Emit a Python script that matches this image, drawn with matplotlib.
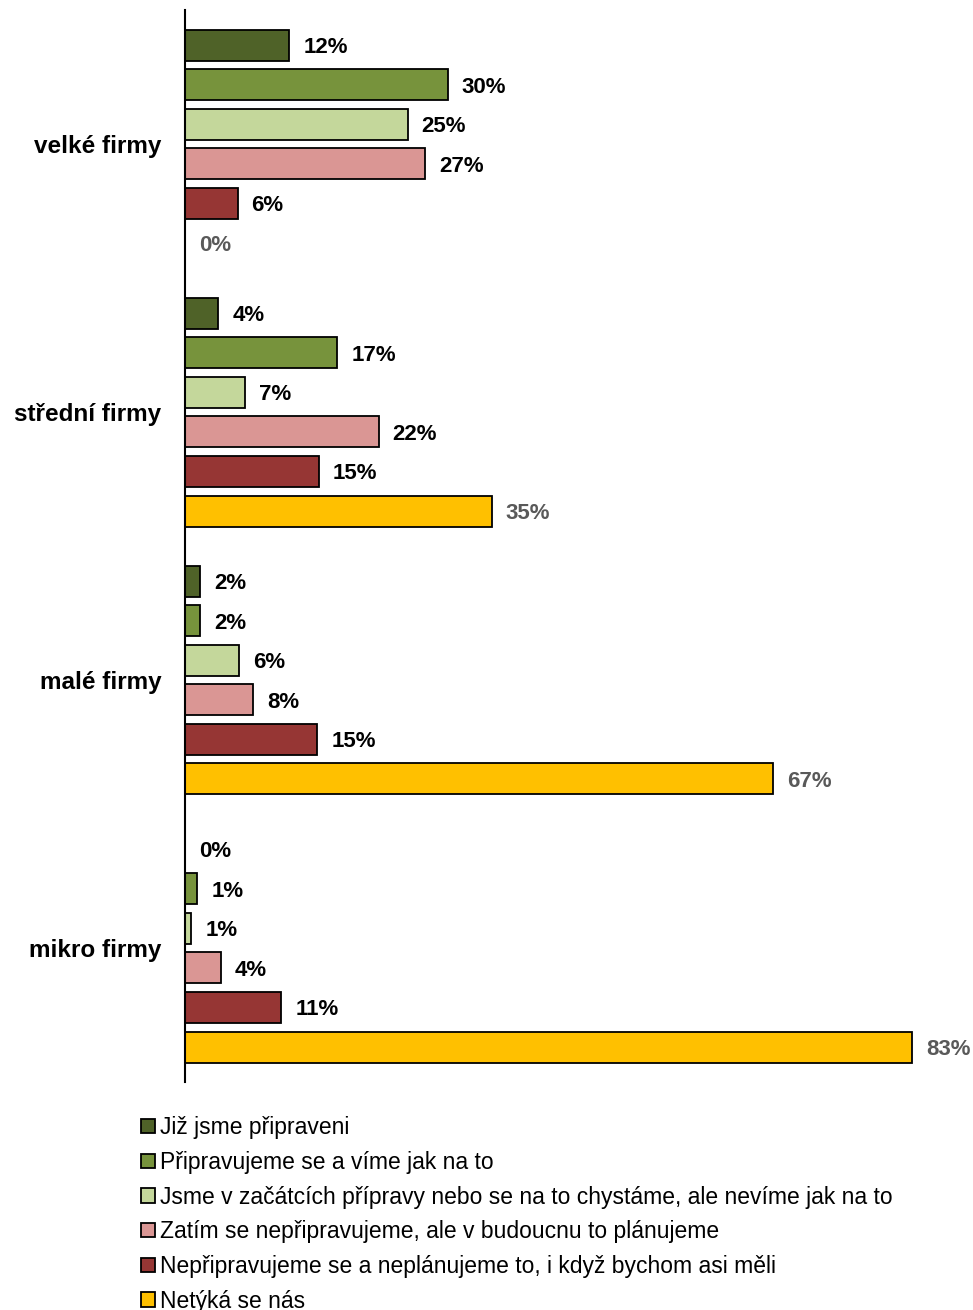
import matplotlib.pyplot as plt
import numpy as np

plt.rcParams['font.family'] = ['Liberation Sans', 'DejaVu Sans']

# categories (top to bottom)
categories = ['velké firmy', 'střední firmy', 'malé firmy', 'mikro firmy']

series_names = [
    'Již jsme připraveni',
    'Připravujeme se a víme jak na to',
    'Jsme v začátcích přípravy nebo se na to chystáme, ale nevíme jak na to',
    'Zatím se nepřipravujeme, ale v budoucnu to plánujeme',
    'Nepřipravujeme se a neplánujeme to, i když bychom asi měli',
    'Netýká se nás',
]

# values in % per series, order of categories
pripraveni = [11.9, 3.8, 1.7, 0.0]
pripravujeme = [30.0, 17.4, 1.7, 1.4]
zacatky = [25.4, 6.8, 6.2, 0.7]
planujeme = [27.4, 22.1, 7.8, 4.1]
neplanujeme = [6.0, 15.3, 15.1, 11.0]
netyka = [0.0, 35.0, 67.1, 83.0]

series = [pripraveni, pripravujeme, zacatky, planujeme, neplanujeme, netyka]
colors = ['#4F6228', '#77933C', '#C4D79B', '#DA9694', '#963634', '#FFC000']
label_colors = ['black'] * 5 + ['#595959']

fig = plt.figure(figsize=(9.73, 13.10), dpi=100)
ax = fig.add_axes([185 / 973, 228 / 1310, 788 / 973, 1072 / 1310])

pitch = 39.6 / 268
height = 31 / 268
y = np.arange(len(categories))

handles = []
for j, vals in enumerate(series):
    pos = y + (j - 2.5) * pitch
    b = ax.barh(pos, vals, height=height, color=colors[j], edgecolor='black',
                linewidth=1.3, label=series_names[j])
    handles.append(b)
    for p, v in zip(pos, vals):
        ax.text(v + 1.6, p, '%d%%' % round(v), va='center_baseline', ha='left',
                fontsize=16, fontweight='bold', color=label_colors[j])

ax.set_xlim(0, 788 / 8.76)
ax.set_ylim(len(categories) - 0.5, -0.5)
ax.set_yticks(y)
ax.set_yticklabels(categories, fontsize=17.5, fontweight='bold')
ax.tick_params(axis='y', length=0, pad=17)
ax.set_xticks([])
for s in ['top', 'right', 'bottom']:
    ax.spines[s].set_visible(False)
ax.spines['left'].set_linewidth(1.5)

fig.legend(handles=handles, loc='upper left', bbox_to_anchor=(132 / 973, 1 - 1107 / 1310),
           frameon=False, fontsize=16.5, handlelength=0.6, handleheight=0.6,
           handletextpad=0.2, labelspacing=0.51, borderaxespad=0)

fig.savefig('out.png', dpi=100)
